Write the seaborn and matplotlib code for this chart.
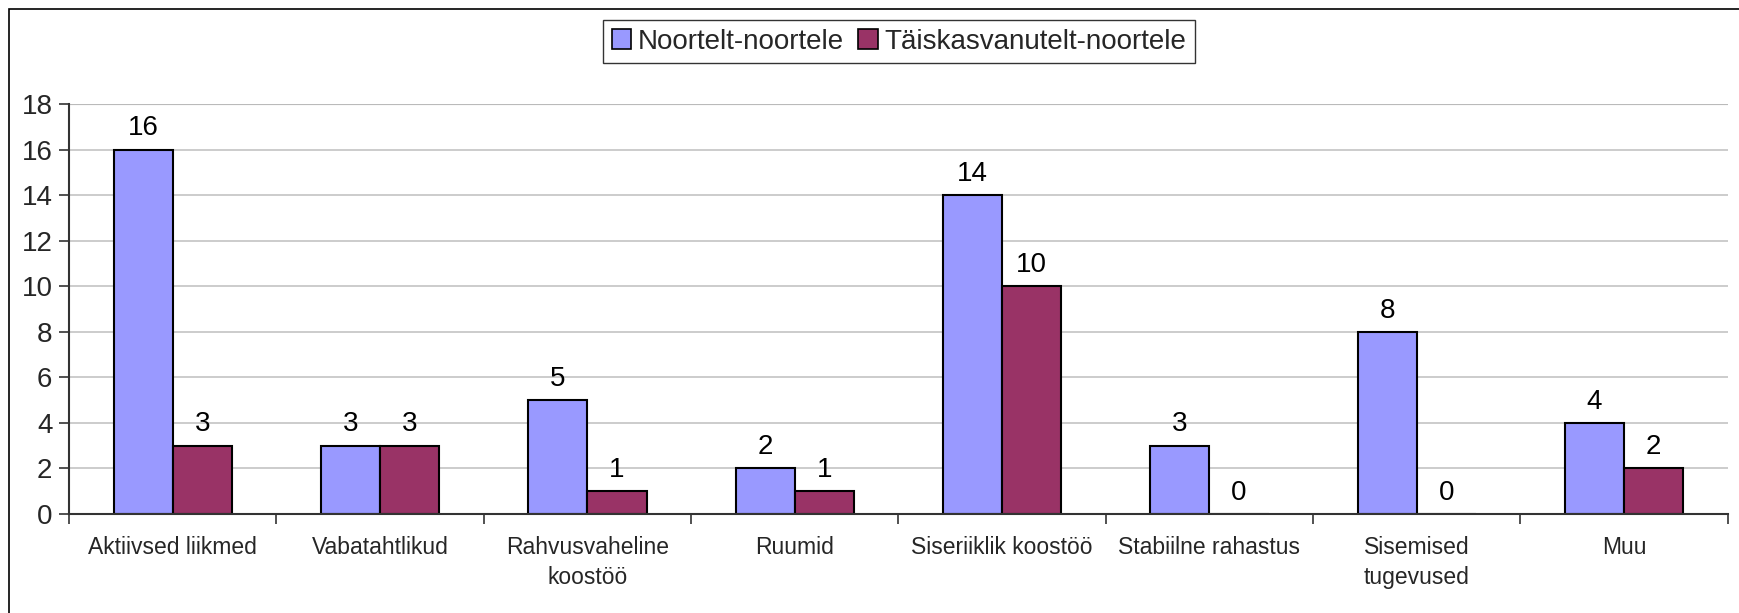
"""
Tulpdiagramm: noortelt-noortele vs täiskasvanutelt-noortele.
"""

import matplotlib
matplotlib.use("Agg")
import matplotlib.pyplot as plt
from matplotlib.patches import Rectangle
import pandas as pd
import seaborn as sns

# --- Andmed ---
kategooriad = [
    "Aktiivsed liikmed", "Vabatahtlikud", "Rahvusvaheline\nkoostöö", "Ruumid",
    "Siseriiklik koostöö", "Stabiilne rahastus", "Sisemised\ntugevused", "Muu",
]
noortelt = [16, 3, 5, 2, 14, 3, 8, 4]
taiskasvanutelt = [3, 3, 1, 1, 10, 0, 0, 2]
seeriad = ["Noortelt-noortele", "Täiskasvanutelt-noortele"]
varvid = ["#9999FF", "#993366"]
y_ticks = [0, 2, 4, 6, 8, 10, 12, 14, 16, 18]

df = pd.DataFrame({
    "kategooria": kategooriad * 2,
    "arv": noortelt + taiskasvanutelt,
    "allikas": [seeriad[0]] * len(kategooriad) + [seeriad[1]] * len(kategooriad),
})

sns.set_theme(style="white")
plt.rcParams["font.family"] = ["Liberation Sans", "DejaVu Sans"]

fig = plt.figure(figsize=(17.4, 6.13), dpi=100)
ax = fig.add_axes([0.0397, 0.1615, 0.9533, 0.6685])

sns.barplot(
    data=df, x="kategooria", y="arv", hue="allikas", order=kategooriad,
    hue_order=seeriad, palette=varvid, edgecolor="black", linewidth=1.5,
    width=0.57, gap=0, saturation=1, ax=ax, legend=True,
)

for cont in ax.containers:
    ax.bar_label(cont, padding=6, fontsize=20, color="black")

ax.set_xlim(-0.5, len(kategooriad) - 0.5)
ax.set_ylim(0, 18)
ax.set_yticks(y_ticks)
ax.set_xlabel("")
ax.set_ylabel("")
ax.grid(axis="y", color="#c4c4c4", linewidth=1.2)
ax.axhline(18, color="#8a8a8a", linewidth=1.5, zorder=0)
ax.set_axisbelow(True)

for side in ["top", "right"]:
    ax.spines[side].set_visible(False)
for side in ["left", "bottom"]:
    ax.spines[side].set_color("#333333")
    ax.spines[side].set_linewidth(1.5)

# x-teljel kriipsud kategooriate vahel
ax.set_xticks(range(len(kategooriad)))
ax.set_xticklabels(kategooriad, fontsize=16.5, linespacing=1.35)
ax.set_xticks([i - 0.5 for i in range(len(kategooriad) + 1)], minor=True)
ax.tick_params(axis="x", which="major", length=0, pad=16)
ax.tick_params(axis="x", which="minor", length=7, width=1.2, color="#333333", bottom=True)
ax.tick_params(axis="y", length=7, width=1.2, color="#333333", left=True,
               labelsize=20, pad=5)

leg = ax.legend(
    loc="upper center", bbox_to_anchor=(0.5167, 0.967), bbox_transform=fig.transFigure,
    ncol=2, fontsize=20, frameon=True, fancybox=False, edgecolor="black",
    handlelength=0.7, handleheight=0.7, handletextpad=0.25, columnspacing=0.5,
    borderpad=0.3, borderaxespad=0,
)
leg.get_frame().set_linewidth(1.0)
for h in leg.legend_handles:
    h.set_edgecolor("black")
    h.set_linewidth(1.2)

# Välimine raam
fig.patches.append(Rectangle((9 / 1740, -0.01), 1.05, 1 - 9 / 613 + 0.01,
                             transform=fig.transFigure, fill=False,
                             edgecolor="black", linewidth=1.2))

plt.savefig("out.png", dpi=100)
plt.close()
